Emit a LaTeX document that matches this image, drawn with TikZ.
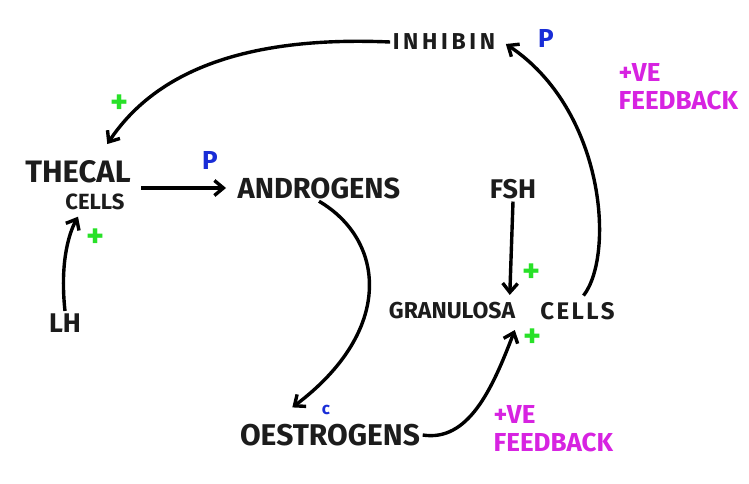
\documentclass[tikz,border=0pt]{standalone}
\usepackage{fontspec}
\setmainfont{Fira Sans}
\usetikzlibrary{positioning,arrows.meta,calc}
\definecolor{plusgreen}{RGB}{40,225,40}
\definecolor{tagblue}{RGB}{25,45,215}
\definecolor{fbmagenta}{RGB}{215,35,225}
\definecolor{ink}{RGB}{28,28,28}
\newcommand{\fs}[1]{\fontsize{#1}{#1}\selectfont}

\begin{document}
\begin{tikzpicture}[x=1pt,y=-1pt,>={Straight Barb[length=9pt,width=15pt]},line width=3.4pt,
  every node/.style={text=ink,inner sep=1pt}]
\tikzstyle{lbl}=[font=\bfseries\fs{29}]
\tikzstyle{sml}=[font=\bfseries\fs{22}]
\tikzstyle{sign}=[font=\bfseries\fs{34},text=plusgreen]
\tikzstyle{tag}=[font=\bfseries\fs{26},text=tagblue]
\tikzstyle{fback}=[font=\bfseries\fontsize{26}{28}\selectfont,text=fbmagenta,align=left,anchor=north west,inner sep=0pt]
\useasboundingbox (0,0) rectangle (749,483);
% labels
\node[sml,font=\bfseries\fs{23}\addfontfeature{LetterSpace=16}] (inhibin) at (444,42) {INHIBIN};
\node[tag] (pI) at (546,38) {P};
\node[lbl,font=\bfseries\fs{31}] (thecal) at (78,172) {THECAL};
\node[sml] (cells) at (95,202) {CELLS};
\node[lbl] (andro) at (319,188) {ANDROGENS};
\node[tag] (pA) at (210,160) {P};
\node[sml,font=\bfseries\fs{27}] (fsh) at (513,189) {FSH};
\node[sml,font=\bfseries\fs{27}] (lh) at (65,323) {LH};
\node[sml,font=\bfseries\fs{23}] (gran) at (452,311) {GRANULOSA};
\node[sml,font=\bfseries\fs{24}\addfontfeature{LetterSpace=10},right=20pt of gran] (gcells) {CELLS};
\node[lbl,font=\bfseries\fs{30}] (oestro) at (330,435) {OESTROGENS};
\node[tag,font=\bfseries\fs{17}] (pC) at (326,410) {c};
\node[sign] (plusT) at (120,104) {+};
\node[sign] (plusL) at (96,238) {+};
\node[sign] (plusF) at (532,273) {+};
\node[sign] (plusO) at (533,338) {+};
\node[fback] (fbTop) at (617,62) {+VE\\FEEDBACK};
\node[fback] (fbBot) at (492,404) {+VE\\FEEDBACK};
% connectors
\draw[->] (inhibin.west) .. controls (230,35) and (150,80) .. ($(thecal.north -| plusT.west)+(-1,-14)$);
\draw[->] ($(thecal.east |- andro.west)+(8,0)$) -- ($(andro.west)+(-9,0)$);
\draw[->] (lh.north) .. controls (60,265) and (68,235) .. ($(cells.south west -| thecal.south)+(0,4)$);
\draw[->] (andro.south) .. controls (385,240) and (395,330) .. ($(oestro.north west)+(55,-14)$);
\draw[->] (oestro.east) .. controls (468,442) and (492,390) .. ($(gran.south east)+(-3,8)$);
\draw[->] (fsh.south) -- ($(gran.north east)+(-8,-5)$);
\draw[->] ($(gcells.north)+(6,-4)$) .. controls (615,255) and (605,110) .. ($(inhibin.east)+(8,2)$);
\end{tikzpicture}
\end{document}
